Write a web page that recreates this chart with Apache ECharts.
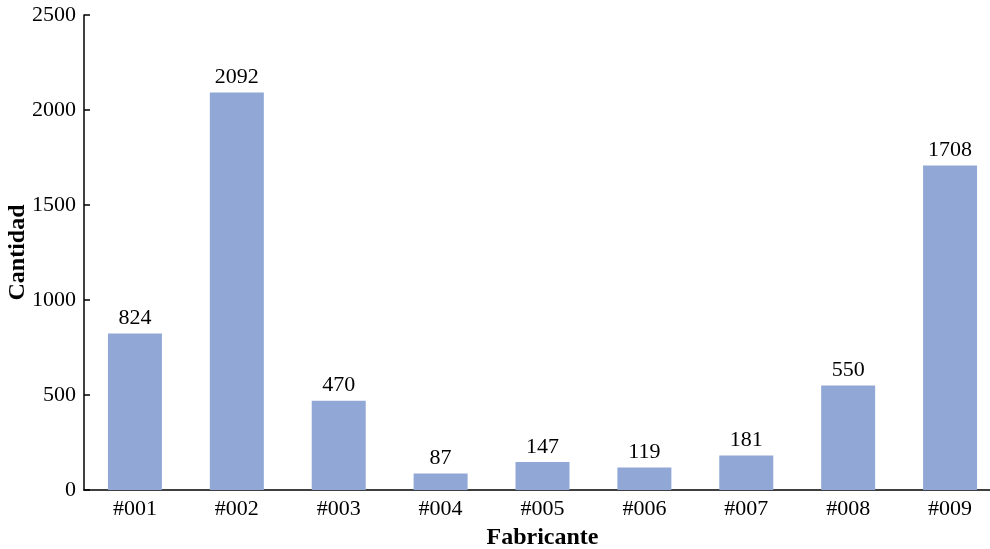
<!DOCTYPE html>
<html>
<head>
<meta charset="utf-8">
<script src="https://cdn.jsdelivr.net/npm/echarts@6/dist/echarts.min.js"></script>
<style>
  html, body { margin: 0; padding: 0; background: #fff; }
  #chart { width: 990px; height: 549px; }
</style>
</head>
<body>
<div id="chart"></div>
<script>
// Quantity per manufacturer
const fabricantes = ['#001', '#002', '#003', '#004', '#005', '#006', '#007', '#008', '#009'];
const cantidades = [824, 2092, 470, 87, 147, 119, 181, 550, 1708];

const serif = '"Liberation Serif", "DejaVu Serif", serif';
const chart = echarts.init(document.getElementById('chart'));

chart.setOption({
  animation: false,
  backgroundColor: '#ffffff',
  grid: { left: 84, top: 15, width: 917, bottom: 59, containLabel: false, outerBoundsMode: 'none' },
  xAxis: {
    type: 'category',
    data: fabricantes,
    name: 'Fabricante',
    nameLocation: 'middle',
    nameGap: 36,
    nameMoveOverlap: false,
    nameTextStyle: { fontFamily: serif, fontSize: 24, fontWeight: 'bold', color: '#000' },
    axisLine: { lineStyle: { color: '#000', width: 1.5 } },
    axisTick: { show: false },
    axisLabel: { fontFamily: serif, fontSize: 22, color: '#000', margin: 8 }
  },
  yAxis: {
    type: 'value',
    min: 0,
    max: 2500,
    interval: 500,
    name: 'Cantidad',
    nameLocation: 'middle',
    nameGap: 54,
    nameMoveOverlap: false,
    nameTextStyle: { fontFamily: serif, fontSize: 24, fontWeight: 'bold', color: '#000' },
    axisLine: { show: true, lineStyle: { color: '#000', width: 1.5 } },
    axisTick: { show: true, inside: true, length: 6, lineStyle: { color: '#000', width: 1.5 } },
    splitLine: { show: false },
    axisLabel: { fontFamily: serif, fontSize: 22, color: '#000', margin: 8, formatter: v => String(v) }
  },
  series: [{
    type: 'bar',
    data: cantidades,
    barWidth: 54,
    itemStyle: { color: '#91a8d6' },
    label: {
      show: true,
      position: 'top',
      distance: 4,
      fontFamily: serif,
      fontSize: 22,
      color: '#000'
    }
  }]
});
</script>
</body>
</html>
